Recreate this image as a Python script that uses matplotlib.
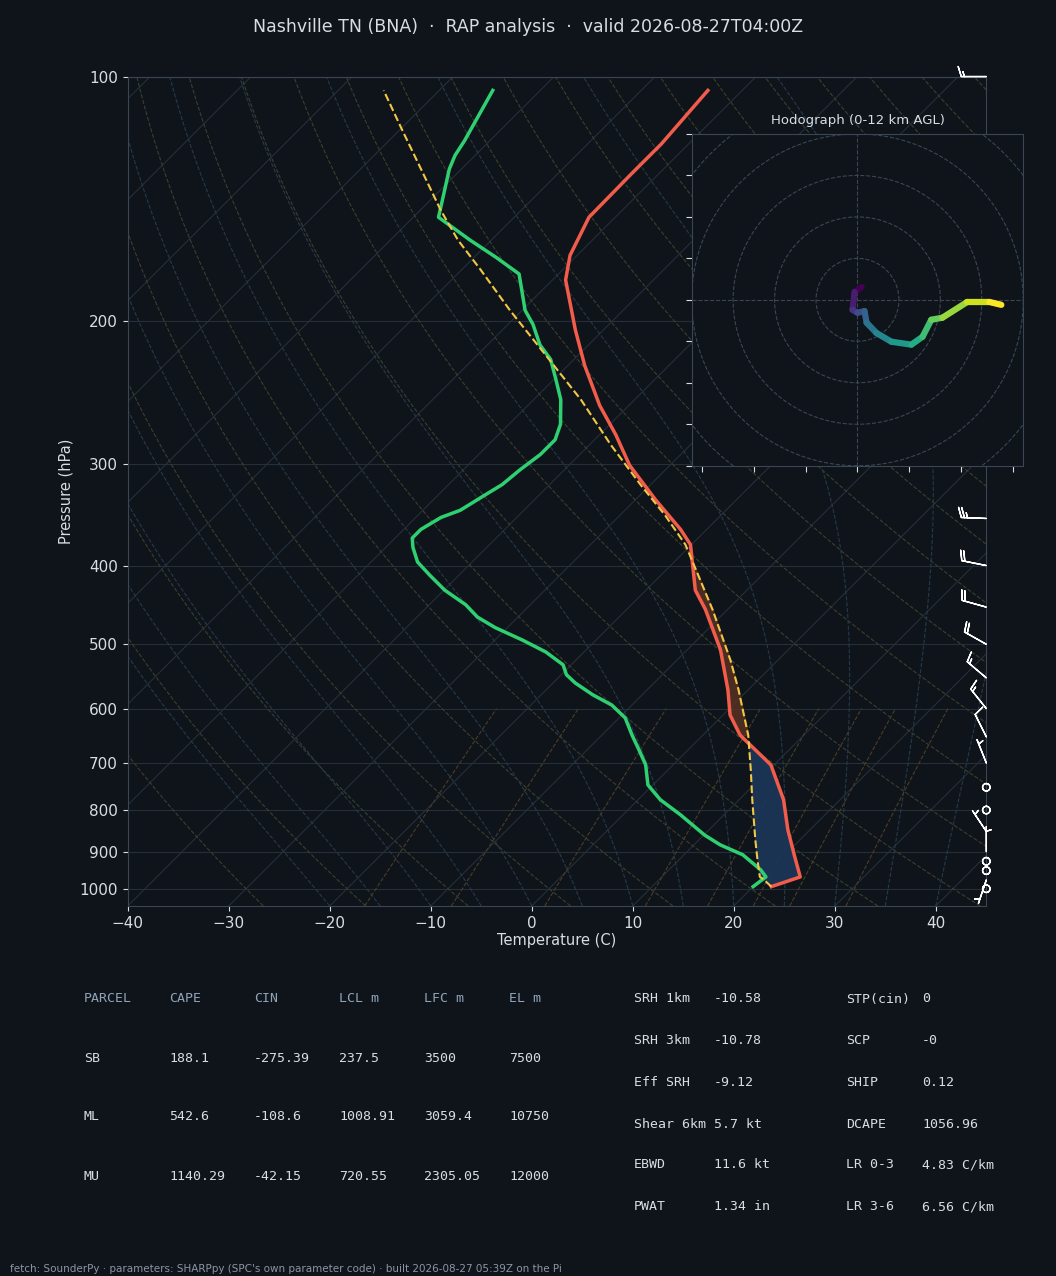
import numpy as np
import matplotlib
matplotlib.use("Agg")
import matplotlib.pyplot as plt
from matplotlib.collections import LineCollection
from matplotlib.ticker import FixedLocator, NullFormatter, MultipleLocator

# sounding data (pressure hPa, temperature C)
t_p = [994, 967, 908, 846, 777, 704, 647, 611, 569, 508, 453, 429, 377, 361, 332,
       301, 276, 254, 227, 205, 178, 166, 149, 132, 121, 104]
t_c = [21.8, 23.7, 20.9, 17.8, 14.4, 9.7, 3.7, 0.7, -2.0, -6.7, -12.2, -15.1, -20.1,
       -22.6, -28.0, -34.0, -38.4, -42.9, -48.3, -52.8, -58.7, -60.7, -62.6, -62.7,
       -62.7, -63.4]
td_p = [994, 967, 948, 908, 883, 859, 811, 777, 745, 704, 674, 647, 616, 594, 577,
        558, 545, 530, 511, 494, 477, 463, 447, 429, 411, 396, 380, 370, 361, 349,
        342, 328, 318, 305, 292, 280, 268, 250, 236, 223, 214, 202, 194, 175, 167,
        159, 153, 149, 142, 130, 125, 120, 104]
td_c = [20.0, 20.3, 19.1, 15.8, 12.6, 10.1, 5.7, 2.2, -0.5, -2.7, -4.9, -7.0, -9.4,
        -12.0, -14.9, -17.8, -19.5, -20.8, -23.8, -27.3, -31.2, -34.0, -36.4, -39.9,
        -42.9, -45.4, -47.3, -48.3, -48.3, -47.5, -46.3, -45.4, -44.7, -44.4, -43.9,
        -43.9, -44.9, -47.3, -49.8, -52.3, -54.8, -57.5, -59.7, -63.9, -67.8, -72.1,
        -75.3, -77.5, -78.8, -81.2, -82.0, -82.5, -84.7]
pc_p = [994, 975, 967, 922, 871, 777, 714, 647, 569, 523, 494, 453, 417, 377, 347,
        318, 284, 250, 220, 194, 173, 159, 146, 130, 116, 104]
pc_c = [21.8, 20.4, 19.7, 17.8, 15.6, 11.3, 8.2, 4.5, -0.95, -4.7, -7.4, -11.5, -15.6,
        -20.6, -25.5, -31.0, -37.9, -45.3, -53.3, -61.2, -68.1, -73.3, -78.0, -84.0,
        -89.9, -95.5]

# winds (kt)
wind_p = [1000, 975, 950, 925, 900, 850, 800, 750, 700, 650, 600, 550, 500, 450,
          400, 350, 300, 250, 200, 150, 100]
wind_u = [0, 1, -1, -1, 0, 2, 0, 0, 2, 4, 8, 13, 16, 18, 20, 26, 32, 35, 30, 25, 15]
wind_v = [0, 3, 2, -2, -3, -3, 0, 0, -5, -8, -10, -11, -9, -5, -4, -1, -1, -1, -1, 0, 0]

# hodograph trace (kt)
hodo_u = [1.0, -0.7, -1.2, 0.0, 1.7, 2.2, 4.6, 8.2, 13.0, 15.7, 17.8, 20.5, 26.5, 31.8, 34.7]
hodo_v = [3.1, 1.9, -2.4, -3.1, -2.7, -5.5, -8.0, -10.1, -10.8, -8.9, -4.8, -4.3, -0.5, -0.5, -1.2]

parcel_rows = [["PARCEL", "CAPE", "CIN", "LCL m", "LFC m", "EL m"],
               ["SB", "188.1", "-275.39", "237.5", "3500", "7500"],
               ["ML", "542.6", "-108.6", "1008.91", "3059.4", "10750"],
               ["MU", "1140.29", "-42.15", "720.55", "2305.05", "12000"]]
index_rows = [["SRH 1km", "-10.58", "STP(cin)", "0"],
              ["SRH 3km", "-10.78", "SCP", "-0"],
              ["Eff SRH", "-9.12", "SHIP", "0.12"],
              ["Shear 6km", "5.7 kt", "DCAPE", "1056.96"],
              ["EBWD", "11.6 kt", "LR 0-3", "4.83 C/km"],
              ["PWAT", "1.34 in", "LR 3-6", "6.56 C/km"]]

BG = "#0f141a"
FG = "#d8dde3"
P0 = 1050.0
K = 80.5  # skew, C per decade of pressure


def skew(t, p):
    return np.asarray(t) + K * np.log10(P0 / np.asarray(p, dtype=float))


fig = plt.figure(figsize=(10.56, 12.76), dpi=100, facecolor=BG)
ax = fig.add_axes([0.121, 0.290, 0.813, 0.650], facecolor=BG)
ax.set_yscale("log")
ax.set_ylim(P0, 100)
ax.set_xlim(-40, 45)

pp = np.geomspace(P0, 100, 200)
# isobars and isotherms
for p in range(100, 1001, 100):
    ax.axhline(p, color="#252f3a", lw=0.8, zorder=1)
for t in range(-140, 60, 10):
    ax.plot(skew(np.full_like(pp, t), pp), pp, color="#252f3a", lw=0.8, zorder=1)
# dry adiabats
for th in range(-30, 200, 10):
    T = (th + 273.15) * (pp / 1000.0) ** 0.2857 - 273.15
    ax.plot(skew(T, pp), pp, color="#3b3f2e", lw=0.8, ls="--", zorder=1)


# moist adiabats
def es(tc):
    return 6.112 * np.exp(17.67 * tc / (tc + 243.5))


for t0 in range(-20, 45, 5):
    pm = np.geomspace(1050, 100, 400)
    T = [t0]
    for i in range(1, len(pm)):
        tk = T[-1] + 273.15
        rs = 0.622 * es(T[-1]) / (pm[i - 1] - es(T[-1]))
        dTdp = (287.0 * tk + 2.5e6 * rs) / (1004.0 + 2.5e6 ** 2 * rs * 0.622 / (287.0 * tk ** 2)) / pm[i - 1]
        T.append(T[-1] + dTdp * (pm[i] - pm[i - 1]))
    ax.plot(skew(T, pm), pm, color="#26394a", lw=0.8, ls="--", zorder=1)
# mixing ratio lines
pw = np.geomspace(1050, 600, 50)
for w in [1, 2, 4, 8, 12, 16, 20, 28]:
    e = pw * w / 1000.0 / (0.622 + w / 1000.0)
    lnv = np.log(e / 6.112)
    Td = 243.5 * lnv / (17.67 - lnv)
    ax.plot(skew(Td, pw), pw, color="#4a3d28", lw=0.8, ls="--", zorder=1)

# CAPE/CIN shading
fp = np.geomspace(994, 104, 400)
lf = np.log(fp)
env = np.interp(-lf, -np.log(t_p), skew(t_c, t_p))
par = np.interp(-lf, -np.log(pc_p), skew(pc_c, pc_p))
ax.fill_betweenx(fp, par, env, where=(env > par) & (fp > 640), color="#1c3556", alpha=0.95, zorder=2)
ax.fill_betweenx(fp, par, env, where=(par > env) & (fp < 650) & (fp > 380), color="#5a3322", alpha=0.8, zorder=2)

ax.plot(skew(t_c, t_p), t_p, color="#f25c4a", lw=2.5, zorder=4)
ax.plot(skew(td_c, td_p), td_p, color="#2fd072", lw=2.5, zorder=4)
ax.plot(skew(pc_c, pc_p), pc_p, color="#f2c744", lw=1.5, ls="--", zorder=4)

ax.barbs(np.full(len(wind_p), 45.0), wind_p, wind_u, wind_v, length=6, color="white",
         lw=1.0, clip_on=False, zorder=5)

ax.yaxis.set_major_locator(FixedLocator(range(100, 1001, 100)))
ax.yaxis.set_major_formatter(plt.FuncFormatter(lambda v, _: f"{int(v)}"))
ax.yaxis.set_minor_formatter(NullFormatter())
ax.yaxis.set_minor_locator(FixedLocator([]))
ax.xaxis.set_major_locator(MultipleLocator(10))
ax.tick_params(colors=FG, labelsize=11)
for s in ax.spines.values():
    s.set_color("#3a4654")
ax.set_xlabel("Temperature (C)", color=FG, fontsize=10.5, labelpad=2)
ax.set_ylabel("Pressure (hPa)", color=FG, fontsize=10.5)

fig.text(0.5, 0.979, "Nashville TN (BNA)  ·  RAP analysis  ·  valid 2026-08-27T04:00Z",
         ha="center", va="center", color=FG, fontsize=12.5)

# hodograph
hx = fig.add_axes([0.655, 0.635, 0.314, 0.260], facecolor=BG, zorder=6)
hx.set_xlim(-40, 40)
hx.set_ylim(-40, 40)
for r in [10, 20, 30, 40, 50]:
    a = np.linspace(0, 2 * np.pi, 200)
    hx.plot(r * np.cos(a), r * np.sin(a), color="#3a4654", lw=0.8, ls="--")
hx.axhline(0, color="#3a4654", lw=0.8, ls="--")
hx.axvline(0, color="#3a4654", lw=0.8, ls="--")
pts = np.column_stack([hodo_u, hodo_v]).reshape(-1, 1, 2)
segs = np.concatenate([pts[:-1], pts[1:]], axis=1)
lc = LineCollection(segs, cmap="viridis", linewidths=4.5, capstyle="round")
lc.set_array(np.arange(len(segs)))
hx.add_collection(lc)
hx.xaxis.set_major_locator(MultipleLocator(12.5))
hx.yaxis.set_major_locator(MultipleLocator(10))
hx.tick_params(colors=FG, labelbottom=False, labelleft=False, length=4)
for s in hx.spines.values():
    s.set_color("#3a4654")
hx.set_title("Hodograph (0-12 km AGL)", color=FG, fontsize=9.5, pad=7)

# tables
mono = "DejaVu Sans Mono"
cols = [84, 169, 254, 339, 424, 509]
rows = [999, 1058, 1117, 1176]
for i, row in enumerate(parcel_rows):
    for j, v in enumerate(row):
        fig.text(cols[j] / 1056, 1 - rows[i] / 1276, v, family=mono, fontsize=9.5,
                 color="#8fa3b8" if i == 0 else FG, va="center")
ry = [999, 1041, 1082, 1124, 1165, 1207]
for i, row in enumerate(index_rows):
    for j, v in enumerate(row):
        fig.text([634, 714, 846, 922][j] / 1056, 1 - ry[i] / 1276, v, family=mono,
                 fontsize=9.5, color=FG, va="center")

fig.text(10 / 1056, 1 - 1269 / 1276,
         "fetch: SounderPy · parameters: SHARPpy (SPC's own parameter code) · built 2026-08-27 05:39Z on the Pi",
         color="#8a96a3", fontsize=7.5, va="center")

fig.savefig("out.png", dpi=100, facecolor=BG)
